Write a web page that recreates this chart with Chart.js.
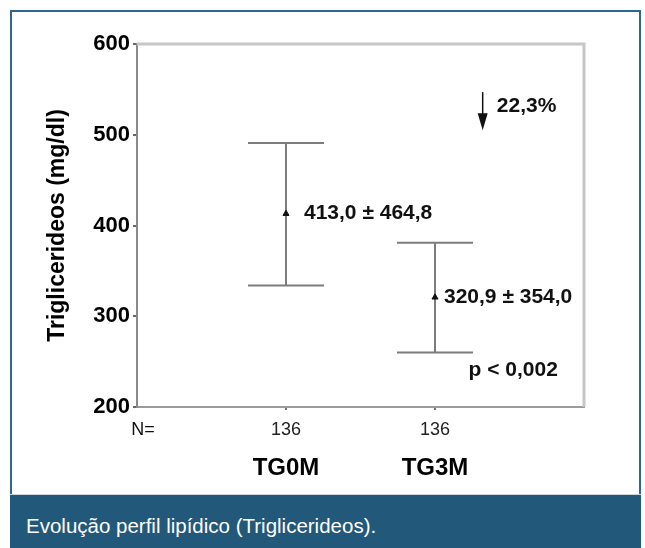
<!DOCTYPE html>
<html>
<head>
<meta charset="utf-8">
<script src="https://cdn.jsdelivr.net/npm/chart.js@4.4.1/dist/chart.umd.min.js"></script>
<style>
  html, body { margin: 0; padding: 0; background: #fff; }
  body { width: 645px; height: 548px; position: relative; overflow: hidden; }
  #frame {
    position: absolute; left: 10px; top: 10px; width: 627px; height: 535px;
    border: 2px solid #2c6891; border-bottom: none; background: #fff;
  }
  #chartBox { position: absolute; left: 12px; top: 4px; width: 627px; height: 490px; }
  #caption {
    position: absolute; left: 10px; top: 494px; width: 631px; height: 54px;
    background: #22587a; border-top: 1px solid #c9d3da; box-sizing: border-box;
    color: #fff; font-family: "Liberation Sans", Arial, sans-serif;
    font-size: 20.5px; line-height: 24px; padding: 19px 0 0 16px;
  }
</style>
</head>
<body>
<div id="frame"></div>
<div id="chartBox"><canvas id="tgChart" width="627" height="490"></canvas></div>
<div id="caption">Evolução perfil lipídico (Triglicerideos).</div>
<script>
// values
const categories = ["TG0M", "TG3M"];
const nValues = [136, 136];
const xPos = [1, 2];
const means = [413.0, 320.9];
const sdValues = [464.8, 354.0];
const ciLower = [334, 260];
const ciUpper = [491, 381];
const yTicks = [200, 300, 400, 500, 600];
const changeText = "22,3%";
const pText = "p < 0,002";

const FONT = '"Liberation Sans", Arial, sans-serif';
const BAR_GRAY = "#7c7c7c";

const fmt = v => v.toFixed(1).replace(".", ",");

// error bar whiskers, one line per group
const whiskers = xPos.map((x, i) => ({
  type: "line",
  data: [{ x, y: ciLower[i] }, { x, y: ciUpper[i] }],
  borderColor: BAR_GRAY,
  borderWidth: 2,
  pointRadius: 0,
  order: 3
}));

const caps = {
  type: "scatter",
  data: xPos.flatMap((x, i) => [{ x, y: ciLower[i] }, { x, y: ciUpper[i] }]),
  pointStyle: "line",
  pointRadius: 38,
  borderColor: BAR_GRAY,
  borderWidth: 2,
  order: 2
};

const meanPoints = {
  type: "scatter",
  data: xPos.map((x, i) => ({ x, y: means[i] })),
  pointStyle: "triangle",
  pointRadius: 3.5,
  backgroundColor: "#111",
  borderColor: "#111",
  borderWidth: 1,
  order: 1
};

// top and right frame lines plus text annotations
const framePlugin = {
  id: "frameAndNotes",
  beforeDatasetsDraw(chart) {
    const { ctx, chartArea: a } = chart;
    ctx.save();
    ctx.strokeStyle = "#c6c6c6";
    ctx.lineWidth = 3;
    ctx.beginPath();
    ctx.moveTo(a.left, a.top);
    ctx.lineTo(a.right, a.top);
    ctx.lineTo(a.right, a.bottom);
    ctx.stroke();
    ctx.restore();
  },
  afterDraw(chart) {
    const { ctx } = chart;
    const xs = chart.scales.x;
    const ys = chart.scales.y;
    const labelDx = [18, 9];
    ctx.save();
    ctx.fillStyle = "#111";
    ctx.font = "bold 21px " + FONT;
    ctx.textBaseline = "middle";
    ctx.textAlign = "left";
    means.forEach((m, i) => {
      ctx.fillText(fmt(m) + " ± " + fmt(sdValues[i]),
        xs.getPixelForValue(xPos[i]) + labelDx[i], ys.getPixelForValue(m));
    });

    ctx.fillText(pText, xs.getPixelForValue(2.225), ys.getPixelForValue(241));
    ctx.fillText(changeText, xs.getPixelForValue(2.415), ys.getPixelForValue(531));

    // down arrow
    const ax = xs.getPixelForValue(2.32);
    const yTop = ys.getPixelForValue(547);
    const yTip = ys.getPixelForValue(505);
    ctx.strokeStyle = "#111";
    ctx.lineWidth = 1.5;
    ctx.beginPath();
    ctx.moveTo(ax, yTop);
    ctx.lineTo(ax, yTip - 10);
    ctx.stroke();
    ctx.beginPath();
    ctx.moveTo(ax - 5, yTip - 17);
    ctx.lineTo(ax + 5, yTip - 17);
    ctx.lineTo(ax, yTip);
    ctx.closePath();
    ctx.fill();

    // N= label next to the counts
    ctx.font = "18px " + FONT;
    ctx.textAlign = "center";
    ctx.textBaseline = "top";
    ctx.fillText("N=", xs.left + 6, xs.top + 14);
    ctx.restore();
  }
};

new Chart(document.getElementById("tgChart"), {
  type: "scatter",
  data: { datasets: [...whiskers, caps, meanPoints] },
  options: {
    responsive: false,
    animation: false,
    events: [],
    layout: { padding: { top: 32, right: 55, left: 0, bottom: 0 } },
    plugins: { legend: { display: false }, tooltip: { enabled: false } },
    scales: {
      x: {
        type: "linear",
        position: "bottom",
        min: 0,
        max: 3,
        weight: 0,
        afterFit: s => { s.height = 33; },
        afterBuildTicks: s => { s.ticks = xPos.map(v => ({ value: v })); },
        border: { display: true, color: "#9a9a9a", width: 2 },
        grid: { drawOnChartArea: false, drawTicks: true, tickLength: 3, color: "#777", lineWidth: 2 },
        ticks: {
          autoSkip: false,
          maxRotation: 0,
          padding: 9,
          color: "#222",
          font: { family: FONT, size: 18 },
          callback: v => { const i = xPos.indexOf(v); return i < 0 ? "" : String(nValues[i]); }
        }
      },
      xCat: {
        type: "linear",
        position: "bottom",
        min: 0,
        max: 3,
        weight: 1,
        afterFit: s => { s.height = 54; },
        afterBuildTicks: s => { s.ticks = xPos.map(v => ({ value: v })); },
        border: { display: false },
        grid: { display: false },
        ticks: {
          autoSkip: false,
          maxRotation: 0,
          padding: 6,
          color: "#000",
          font: { family: FONT, size: 24, weight: "bold" },
          callback: v => { const i = xPos.indexOf(v); return i < 0 ? "" : categories[i]; }
        }
      },
      y: {
        type: "linear",
        min: yTicks[0],
        max: yTicks[yTicks.length - 1],
        afterFit: s => { s.width = 125; },
        afterBuildTicks: s => { s.ticks = yTicks.map(v => ({ value: v })); },
        border: { display: true, color: "#8a8a8a", width: 2 },
        grid: { drawOnChartArea: false, drawTicks: true, tickLength: 4, color: "#666", lineWidth: 2 },
        ticks: {
          padding: 3,
          color: "#000",
          font: { family: FONT, size: 22, weight: "bold" }
        },
        title: {
          display: true,
          text: "Triglicerideos (mg/dl)",
          color: "#000",
          font: { family: FONT, size: 23, weight: "bold" },
          padding: { top: 32, bottom: 0 }
        }
      }
    }
  },
  plugins: [framePlugin]
});
</script>
</body>
</html>
